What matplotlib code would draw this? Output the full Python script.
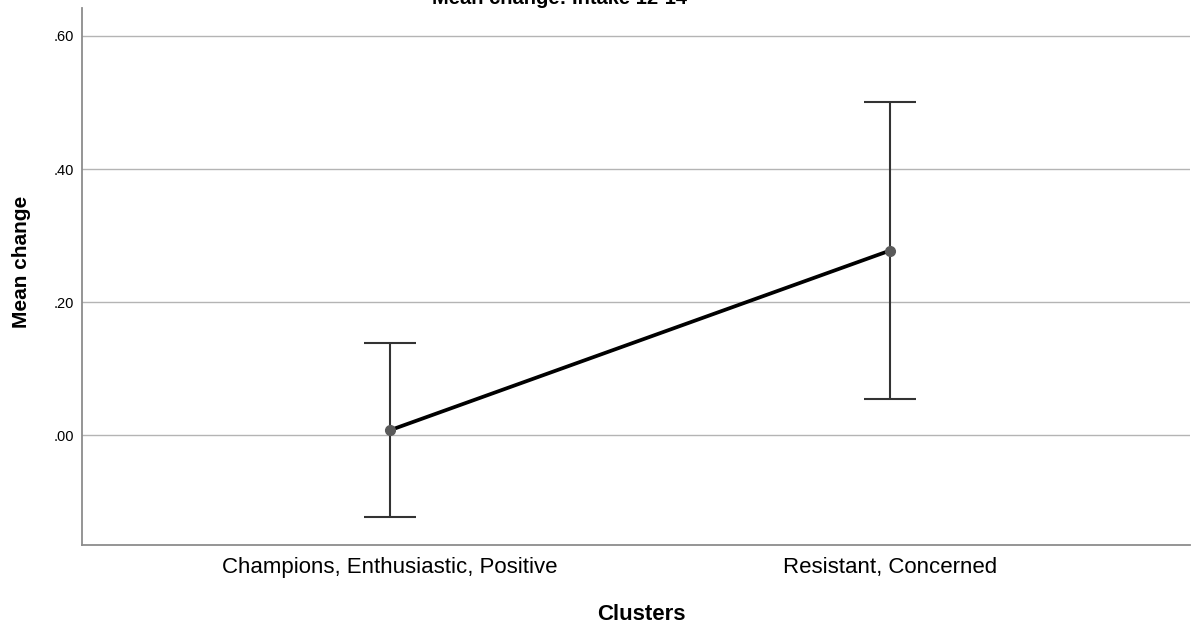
import matplotlib
matplotlib.use("Agg")
import matplotlib.pyplot as plt
import numpy as np

categories = ["Champions, Enthusiastic, Positive", "Resistant, Concerned"]
means = [0.0075, 0.2775]
ci_low = [-0.123, 0.054]
ci_high = [0.139, 0.501]
yticks = [0.0, 0.2, 0.4, 0.6]
ytick_labels = [".00", ".20", ".40", ".60"]

plt.rcParams['font.family'] = ['Liberation Sans', 'DejaVu Sans']

fig = plt.figure(figsize=(11.91, 6.24), dpi=100)
ax = fig.add_axes([82/1191, (624-545)/624, (1190-82)/1191, (545-8)/624])

x = np.arange(len(categories))
m = np.array(means)
yerr = np.vstack([m - np.array(ci_low), np.array(ci_high) - m])

ax.errorbar(x, m, yerr=yerr, fmt='none', ecolor='#333333', elinewidth=1.5,
            capsize=19, capthick=1.5, zorder=3)
ax.plot(x, m, color='black', lw=2.7, zorder=4, solid_capstyle='butt')
ax.plot(x, m, 'o', color='#5a5a5a', markersize=7, zorder=5)

ax.set_xlim(-0.616, 1.6)
ax.set_ylim(-0.165, 0.642)
ax.set_yticks(yticks)
ax.set_yticklabels(ytick_labels, fontsize=10.5)
ax.set_xticks(x)
ax.set_xticklabels(categories, fontsize=16)
ax.tick_params(axis='y', length=0, pad=5.5)
ax.tick_params(axis='x', length=0, pad=9)
ax.yaxis.grid(True, color='#b4b4b4', lw=1)
ax.set_axisbelow(True)
for s in ['top', 'right']:
    ax.spines[s].set_visible(False)
for s in ['left', 'bottom']:
    ax.spines[s].set_color('#8c8c8c')
    ax.spines[s].set_linewidth(1.3)

ax.set_xlabel("Clusters", fontsize=16, fontweight='bold')
ax.xaxis.set_label_coords((641-82)/1108, -(620-545)/537)
ax.xaxis.label.set_va('baseline')
ax.set_ylabel("Mean change", fontsize=15, fontweight='bold')
ax.yaxis.set_label_coords(-0.046, 0.527)

fig.text(560/1191, (624-4)/624, "Mean change: Intake 12-14", fontsize=14.5,
         fontweight='bold', ha='center', va='baseline')

fig.savefig("out.png", dpi=100)
